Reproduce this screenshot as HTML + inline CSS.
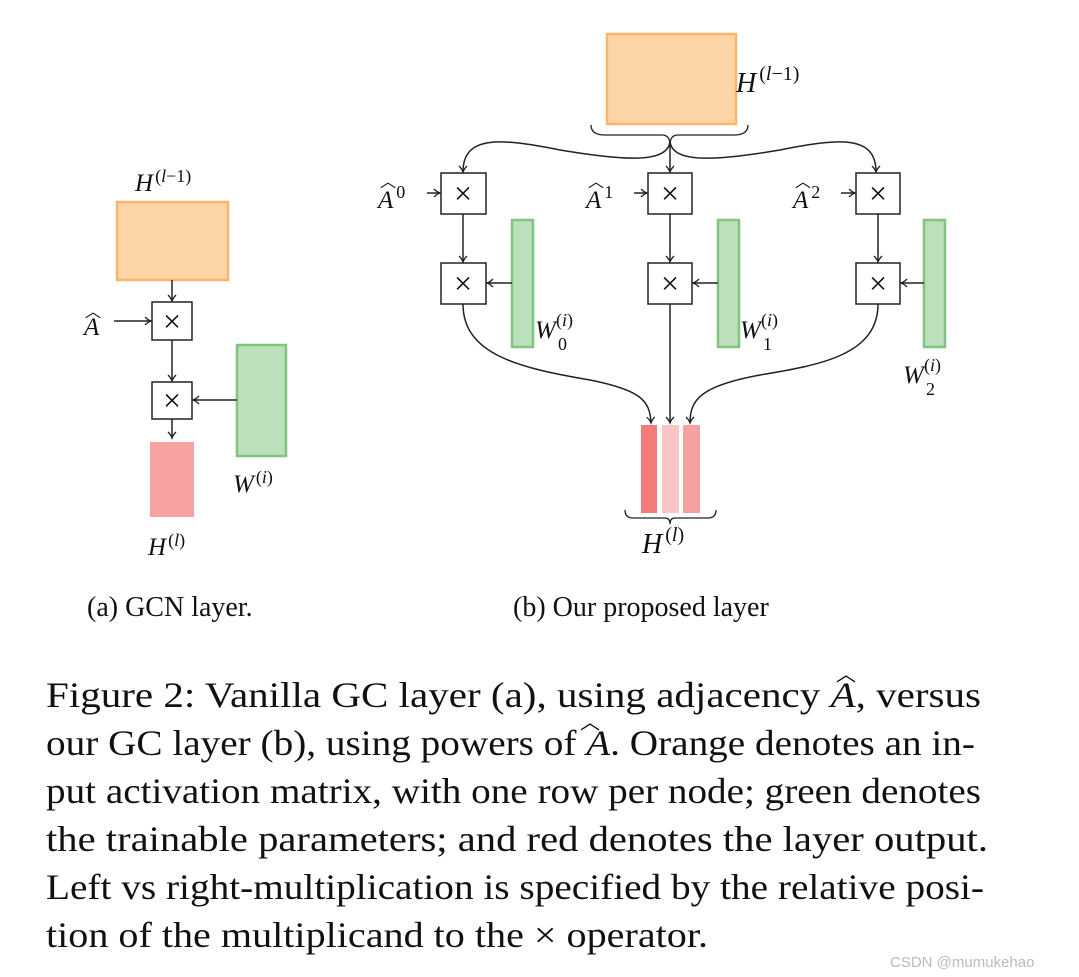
<!DOCTYPE html>
<html><head><meta charset="utf-8"><style>
html,body{margin:0;padding:0;background:#fff;}
svg{display:block;}
text{font-family:"Liberation Serif",serif;fill:#111;}
.m{font-style:italic;}
</style></head><body>
<svg width="1079" height="977" viewBox="0 0 1079 977" xmlns="http://www.w3.org/2000/svg">
<defs>
<marker id="a" markerWidth="10" markerHeight="10" refX="7" refY="5" orient="auto" markerUnits="userSpaceOnUse">
<path d="M1,1 Q4,4 7,5 Q4,6 1,9" fill="none" stroke="#222" stroke-width="1.3"/>
</marker>
</defs>
<g stroke="#222" stroke-width="1.5" fill="none">
<rect x="117" y="202" width="111" height="78" fill="#fdd5a7" stroke="#fbb46a" stroke-width="2.5"/>
<rect x="237" y="345" width="49" height="111" fill="#bbe0bb" stroke="#80c480" stroke-width="2.5"/>
<rect x="150" y="442" width="44" height="75" fill="#f6a2a0" stroke="none"/>
<rect x="152" y="302" width="40" height="38" fill="#fff"/>
<rect x="152" y="382" width="40" height="37" fill="#fff"/>
<line x1="172" y1="280" x2="172" y2="301" marker-end="url(#a)"/>
<line x1="114" y1="321" x2="151" y2="321" marker-end="url(#a)"/>
<line x1="172" y1="340" x2="172" y2="381" marker-end="url(#a)"/>
<line x1="237" y1="400" x2="193" y2="400" marker-end="url(#a)"/>
<line x1="172" y1="419" x2="172" y2="438" marker-end="url(#a)"/>
<rect x="607" y="34" width="129" height="90" fill="#fdd5a7" stroke="#fbb46a" stroke-width="2.5"/>
<path d="M591,125 Q591,135 605,135 L662,135 Q670,135 670,145 Q670,135 678,135 L734,135 Q748,135 748,125" stroke-width="1.3"/>
<path d="M670,140 C670,165 620,160 560,150 C500,138 463,135 463,172" marker-end="url(#a)"/>
<path d="M670,140 L670,172" marker-end="url(#a)"/>
<path d="M670,140 C670,165 720,160 780,150 C840,138 876,135 876,172" marker-end="url(#a)"/>
<rect x="512" y="220" width="21" height="127" fill="#bbe0bb" stroke="#80c480" stroke-width="2.5"/>
<rect x="718" y="220" width="21" height="127" fill="#bbe0bb" stroke="#80c480" stroke-width="2.5"/>
<rect x="924" y="220" width="21" height="127" fill="#bbe0bb" stroke="#80c480" stroke-width="2.5"/>
<rect x="441" y="173" width="45" height="41" fill="#fff"/>
<rect x="648" y="173" width="44" height="41" fill="#fff"/>
<rect x="856" y="173" width="44" height="41" fill="#fff"/>
<rect x="441" y="263" width="45" height="41" fill="#fff"/>
<rect x="648" y="263" width="44" height="41" fill="#fff"/>
<rect x="856" y="263" width="44" height="41" fill="#fff"/>
<line x1="427" y1="193" x2="440" y2="193" marker-end="url(#a)"/>
<line x1="634" y1="193" x2="647" y2="193" marker-end="url(#a)"/>
<line x1="841" y1="193" x2="855" y2="193" marker-end="url(#a)"/>
<line x1="463" y1="214" x2="463" y2="262" marker-end="url(#a)"/>
<line x1="670" y1="214" x2="670" y2="262" marker-end="url(#a)"/>
<line x1="878" y1="214" x2="878" y2="262" marker-end="url(#a)"/>
<line x1="512" y1="283" x2="487" y2="283" marker-end="url(#a)"/>
<line x1="718" y1="283" x2="693" y2="283" marker-end="url(#a)"/>
<line x1="924" y1="283" x2="901" y2="283" marker-end="url(#a)"/>
<rect x="641" y="425" width="16" height="88" fill="#f27c7a" stroke="none"/>
<rect x="662" y="425" width="17" height="88" fill="#f8c5c4" stroke="none"/>
<rect x="683" y="425" width="17" height="88" fill="#f5a19f" stroke="none"/>
<path d="M463,304 C463,355 520,368 590,380 C640,390 650,400 651,423" marker-end="url(#a)"/>
<line x1="670" y1="304" x2="670" y2="423" marker-end="url(#a)"/>
<path d="M878,304 C878,355 820,365 760,375 C700,386 690,400 690,423" marker-end="url(#a)"/>
<path d="M625,510 Q625,518 633,518 L665,518 Q670,518 670,524 Q670,518 675,518 L708,518 Q716,518 716,510" stroke-width="1.3"/>
</g>
<g font-size="32" text-anchor="middle" style="font-family:'DejaVu Sans',sans-serif">
<text x="172" y="332">×</text><text x="172" y="411">×</text>
<text x="463" y="204">×</text><text x="670" y="204">×</text><text x="878" y="204">×</text>
<text x="463" y="294">×</text><text x="670" y="294">×</text><text x="878" y="294">×</text>
</g>
<g font-size="25">
<text x="135" y="191" class="m">H<tspan font-size="18" dx="2" dy="-9" font-style="normal">(<tspan font-style="italic">l</tspan>−1)</tspan></text>
<text x="84" y="335" class="m">A</text><text x="85" y="317" font-size="16">︿</text>
<text x="233" y="492" class="m">W<tspan font-size="18" dx="2" dy="-9" font-style="normal">(<tspan font-style="italic">i</tspan>)</tspan></text>
<text x="148" y="555" class="m">H<tspan font-size="18" dx="2" dy="-9" font-style="normal">(<tspan font-style="italic">l</tspan>)</tspan></text>
<text x="736" y="92" class="m" font-size="28">H<tspan font-size="20" dx="3" dy="-12" font-style="normal">(<tspan font-style="italic">l</tspan>−1)</tspan></text>
<text x="378" y="208" class="m">A<tspan font-size="18" dx="3" dy="-10" font-style="normal">0</tspan></text><text x="380" y="187" font-size="16">︿</text>
<text x="586" y="208" class="m">A<tspan font-size="18" dx="3" dy="-10" font-style="normal">1</tspan></text><text x="588" y="187" font-size="16">︿</text>
<text x="793" y="208" class="m">A<tspan font-size="18" dx="3" dy="-10" font-style="normal">2</tspan></text><text x="795" y="187" font-size="16">︿</text>
<text x="535" y="338" class="m">W</text><text x="556" y="326" font-size="18">(<tspan class="m">i</tspan>)</text><text x="558" y="350" font-size="18">0</text>
<text x="740" y="338" class="m">W</text><text x="761" y="326" font-size="18">(<tspan class="m">i</tspan>)</text><text x="763" y="350" font-size="18">1</text>
<text x="903" y="383" class="m">W</text><text x="924" y="371" font-size="18">(<tspan class="m">i</tspan>)</text><text x="926" y="395" font-size="18">2</text>
<text x="642" y="553" class="m" font-size="28">H<tspan font-size="20" dx="3" dy="-12" font-style="normal">(<tspan font-style="italic">l</tspan>)</tspan></text>
</g>
<g font-size="28">
<text x="87" y="616">(a) GCN layer.</text>
<text x="513" y="616">(b) Our proposed layer</text>
</g>
<g font-size="36">
<text x="46" y="707" textLength="935" lengthAdjust="spacingAndGlyphs">Figure 2: Vanilla GC layer (a), using adjacency <tspan class="m">A</tspan>, versus</text>
<text x="46" y="755" textLength="929" lengthAdjust="spacingAndGlyphs">our GC layer (b), using powers of <tspan class="m">A</tspan>. Orange denotes an in-</text>
<text x="46" y="803" textLength="935" lengthAdjust="spacingAndGlyphs">put activation matrix, with one row per node; green denotes</text>
<text x="46" y="851" textLength="942" lengthAdjust="spacingAndGlyphs">the trainable parameters; and red denotes the layer output.</text>
<text x="46" y="899" textLength="938" lengthAdjust="spacingAndGlyphs">Left vs right-multiplication is specified by the relative posi-</text>
<text x="46" y="947" textLength="662" lengthAdjust="spacingAndGlyphs">tion of the multiplicand to the × operator.</text>
</g>
<text x="836" y="681" font-size="20">︿</text>
<text x="580" y="729" font-size="20">︿</text>
<text x="890" y="967" font-size="15" style="font-family:'Liberation Sans',sans-serif;fill:#bbb">CSDN @mumukehao</text>
</svg>
</body></html>
